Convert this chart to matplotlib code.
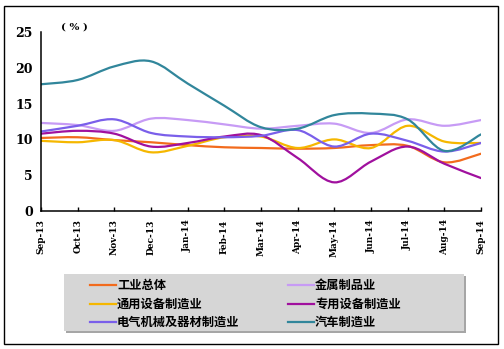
import numpy as np
import matplotlib
matplotlib.use("Agg")
import matplotlib.pyplot as plt
from matplotlib.path import Path
from matplotlib.patches import PathPatch, Rectangle
from matplotlib.lines import Line2D

plt.rcParams['font.family'] = ['Noto Sans CJK SC', 'DejaVu Sans']

months = ['Sep-13', 'Oct-13', 'Nov-13', 'Dec-13', 'Jan-14', 'Feb-14', 'Mar-14',
          'Apr-14', 'May-14', 'Jun-14', 'Jul-14', 'Aug-14', 'Sep-14']

# 增速 (%)
industry_total = [10.2, 10.3, 9.9, 9.6, 9.2, 8.9, 8.8, 8.7, 8.8, 9.2, 9.1, 6.8, 8.0]
metal_products = [12.3, 12.0, 11.2, 12.9, 12.7, 12.1, 11.5, 11.9, 12.2, 10.9, 12.8, 11.9, 12.7]
general_equip = [9.8, 9.6, 9.9, 8.2, 9.1, 10.3, 10.4, 8.8, 10.0, 8.8, 11.9, 9.7, 9.5]
special_equip = [10.8, 11.2, 10.8, 9.0, 9.5, 10.4, 10.6, 7.4, 4.0, 6.9, 9.0, 6.6, 4.6]
electrical = [11.1, 11.9, 12.8, 10.9, 10.4, 10.3, 10.5, 11.3, 9.0, 10.8, 9.8, 8.3, 9.5]
automobile = [17.7, 18.3, 20.2, 20.9, 17.8, 14.7, 11.7, 11.5, 13.4, 13.6, 12.8, 8.4, 10.7]

names = ['工业总体', '金属制品业', '通用设备制造业', '专用设备制造业',
         '电气机械及器材制造业', '汽车制造业']
series = [industry_total, metal_products, general_equip, special_equip,
          electrical, automobile]
colors = ['#F26B1D', '#C79BF5', '#F5B700', '#A0109E', '#7A5FEA', '#31869B']


def smooth_path(x, y):
    # Catmull-Rom style bezier through the points (like Excel's smoothed line)
    pts = np.column_stack([x, y]).astype(float)
    ext = np.vstack([pts[0], pts, pts[-1]])
    verts = [pts[0]]
    codes = [Path.MOVETO]
    for i in range(len(pts) - 1):
        p0, p1, p2, p3 = ext[i], ext[i + 1], ext[i + 2], ext[i + 3]
        verts += [p1 + (p2 - p0) / 6, p2 - (p3 - p1) / 6, p2]
        codes += [Path.CURVE4] * 3
    return Path(verts, codes)


fig = plt.figure(figsize=(5.04, 3.49), dpi=100)
ax = fig.add_axes([41 / 504, 1 - 211 / 349, 440 / 504, 179 / 349])

x = np.arange(len(months))
for vals, c in zip(series, colors):
    ax.add_patch(PathPatch(smooth_path(x, vals), facecolor='none',
                           edgecolor=c, lw=1.6, capstyle='round'))

ax.set_xlim(0, len(months) - 1)
ax.set_ylim(0, 25)
ax.set_yticks([0, 5, 10, 15, 20, 25])
ax.set_yticklabels([str(v) for v in [0, 5, 10, 15, 20, 25]],
                   family='DejaVu Serif', weight='bold', fontsize=9)
ax.set_xticks(x)
ax.set_xticklabels(months, rotation=90, family='DejaVu Serif',
                   weight='bold', fontsize=6.5, va='top')
ax.tick_params(axis='x', direction='in', length=3, width=1, pad=6)
ax.tick_params(axis='y', length=0, pad=6)
for s in ['top', 'right']:
    ax.spines[s].set_visible(False)
for s in ['left', 'bottom']:
    ax.spines[s].set_linewidth(1.1)

fig.text(61 / 504, 1 - 27 / 349, '( % )', fontsize=7.5, weight='bold',
         family='DejaVu Serif', va='center', ha='left')

# outer frame
fig.add_artist(Rectangle((4 / 504, 1 - 344 / 349), 494 / 504, 338 / 349,
                         transform=fig.transFigure, facecolor='none',
                         edgecolor='black', lw=1.0))

# legend box with shadow
fig.add_artist(Rectangle((66 / 504, 1 - 333 / 349), 400 / 504, 57 / 349,
                         transform=fig.transFigure, facecolor='#a6a6a6',
                         edgecolor='none'))
fig.add_artist(Rectangle((64 / 504, 1 - 331 / 349), 400 / 504, 57 / 349,
                         transform=fig.transFigure, facecolor='#d6d6d6',
                         edgecolor='none'))
row_y = [285, 304, 322]
col_x = [90, 288]
for i, (name, c) in enumerate(zip(names, colors)):
    r, k = i // 2, i % 2
    yy = 1 - row_y[r] / 349
    x0 = col_x[k] / 504
    fig.add_artist(Line2D([x0, x0 + 26 / 504], [yy, yy], color=c, lw=1.6,
                          transform=fig.transFigure))
    fig.text(x0 + 27 / 504, yy, name, fontsize=8.8, weight='bold',
             va='center', ha='left')

fig.savefig('out.png', dpi=100)
